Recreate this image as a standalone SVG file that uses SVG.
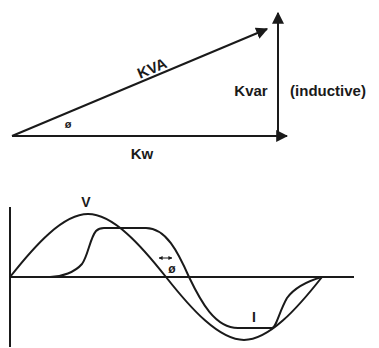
<svg xmlns="http://www.w3.org/2000/svg" width="379" height="348" viewBox="0 0 379 348">
<style>
.ln{fill:none;stroke:#1a1a1a;stroke-width:2}
.thin{fill:none;stroke:#1a1a1a;stroke-width:1}
.t{font-family:"Liberation Sans",Arial,sans-serif;font-weight:bold;fill:#1a1a1a}
</style>
<defs>
<marker id="ah" viewBox="0 0 10 10" refX="9" refY="5" markerWidth="6" markerHeight="6" orient="auto" markerUnits="strokeWidth">
<path d="M0,0 L10,5 L0,10 Z" fill="#1a1a1a"/>
</marker>
<marker id="sh" viewBox="0 0 10 10" refX="9" refY="5" markerWidth="4" markerHeight="4" orient="auto-start-reverse" markerUnits="strokeWidth">
<path d="M0,0 L10,5 L0,10 Z" fill="#1a1a1a"/>
</marker>
</defs>
<rect width="379" height="348" fill="#fff"/>
<g id="connectors">
<line id="kw" class="ln" x1="12" y1="136" x2="287" y2="136" marker-end="url(#ah)"/>
<line id="kvar" class="ln" x1="278" y1="136" x2="278" y2="13" marker-end="url(#ah)"/>
<line id="kva" class="ln" x1="12" y1="136" x2="267" y2="29" marker-end="url(#ah)"/>
</g>
<g id="labels-top">
<text class="t" x="154" y="73" font-size="15" text-anchor="middle" transform="rotate(-22.8 154 73)">KVA</text>
<text class="t" x="251" y="96" font-size="15" text-anchor="middle">Kvar</text>
<text class="t" x="328" y="96" font-size="15" text-anchor="middle">(inductive)</text>
<text class="t" x="142" y="159" font-size="15" text-anchor="middle">Kw</text>
<text class="t" x="68" y="128" font-size="11" text-anchor="middle">ø</text>
</g>
<g id="waveform">
<line id="y-axis" class="ln" x1="10" y1="207" x2="10" y2="347"/>
<line id="x-axis" class="ln" x1="10" y1="277" x2="354" y2="277"/>
<path id="v-curve" class="ln" d="M10,277 C35.4,244.7 63.2,214 88,214 C112.8,214 140.6,244.7 166,277 C191.4,309.3 219.2,340 244,340 C268.8,340 296.6,309.3 322,277"/>
<path id="i-curve" class="ln" d="M10,277 L50,277 C62,277 75,272 82,264 C88,256 90,238 96,231 C99,228 101,228 104,228 L146,228 C166,228 178,252 189,277 C201,302 215,328 238,328 L272,328 C276,328 279,312 287,298 C295,287 308,281 322,277 L354,277"/>
<line id="phase" class="thin" x1="159" y1="258" x2="172" y2="258" marker-start="url(#sh)" marker-end="url(#sh)"/>
<text class="t" x="172" y="273" font-size="12" text-anchor="middle">ø</text>
<text class="t" x="86" y="207" font-size="14" text-anchor="middle">V</text>
<text class="t" x="254" y="322" font-size="14" text-anchor="middle">I</text>
</g>
</svg>
